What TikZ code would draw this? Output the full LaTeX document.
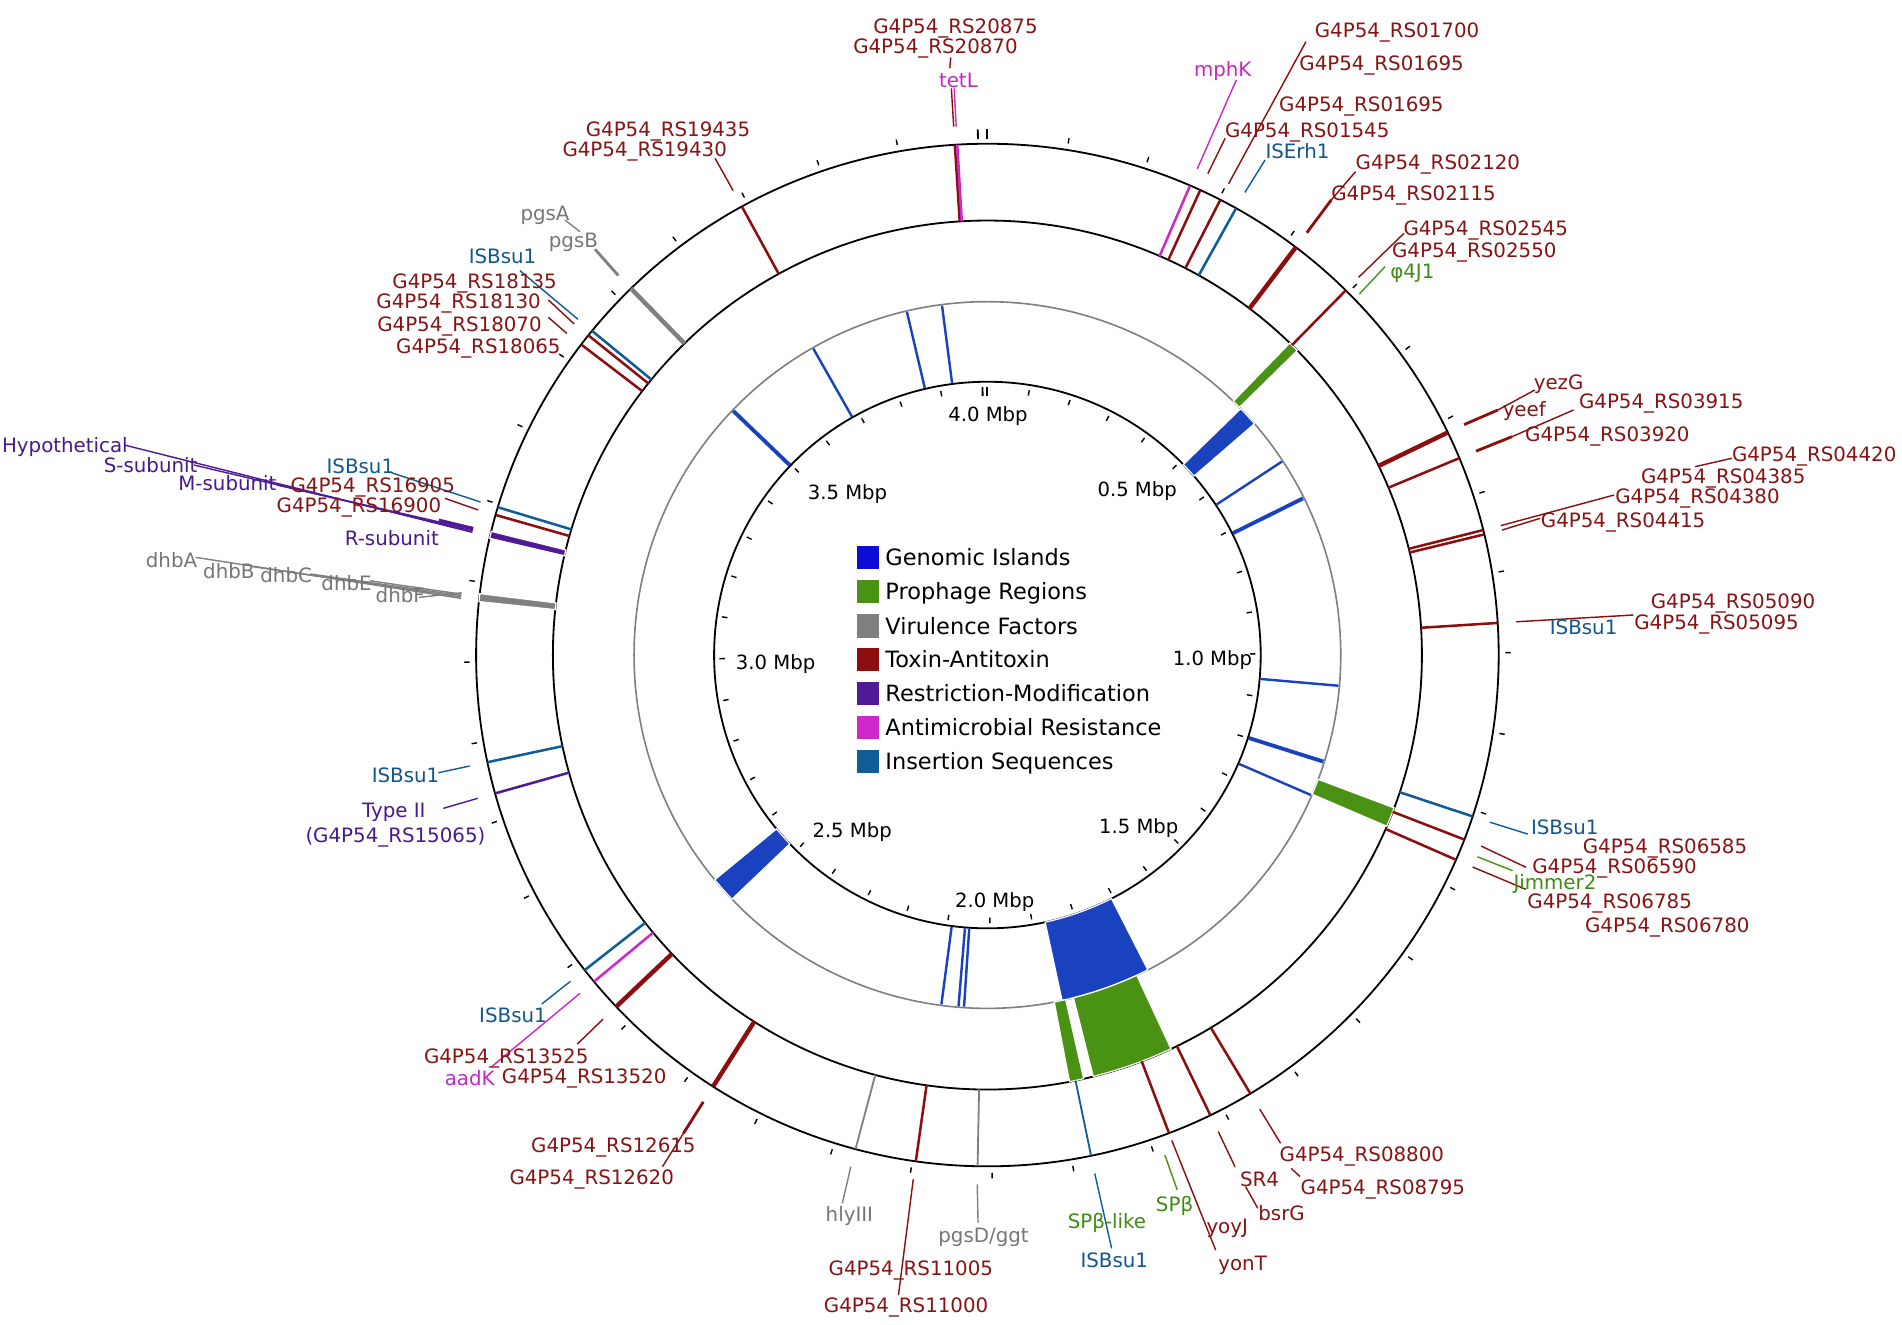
\documentclass[tikz,border=0pt]{standalone}
\usepackage{fontspec}
\setmainfont{DejaVu Sans}
\definecolor{ta}{RGB}{140,14,14}
\definecolor{amr}{RGB}{204,40,204}
\definecolor{isq}{RGB}{16,92,150}
\definecolor{rm}{RGB}{80,26,150}
\definecolor{vf}{RGB}{128,128,128}
\definecolor{pro}{RGB}{74,146,20}
\definecolor{gi}{RGB}{26,66,190}
\definecolor{gileg}{RGB}{12,12,214}
\definecolor{tatxt}{RGB}{135,20,20}
\definecolor{istxt}{RGB}{20,85,140}
\definecolor{rmtxt}{RGB}{72,26,140}
\definecolor{vftxt}{RGB}{118,118,118}
\definecolor{protxt}{RGB}{62,140,22}
\definecolor{amrtxt}{RGB}{196,40,196}
% ring line between the two outer circles
\newcommand\rl[2]{\draw[#2] ({#1-90}:358.2) -- ({#1-90}:421.5);}
% annular block: theta1, theta2, r1, r2, style
\newcommand\blk[5]{\fill[#5, draw=white, line width=0.6pt] ({#1-90}:#3) arc[start angle={#1-90}, end angle={#2-90}, radius=#3] -- ({#2-90}:#4) arc[start angle={#2-90}, end angle={#1-90}, radius=#4] -- cycle;}
% leader: style, name, start angle, end point
\newcommand\ld[4]{\coordinate (#2s) at ([shift={(814,540)}]{#3-90}:436.5); \coordinate (#2e) at (#4); \draw[#1] (#2s) -- (#2e);}
\begin{document}
\begin{tikzpicture}[x=0.6pt,y=-0.6pt,
  lbl/.style={inner sep=0pt, anchor=base, yshift=-3.55pt, font=\fontsize{9.8}{12}\selectfont},
  tal/.style={lbl, text=tatxt},
  isl/.style={lbl, text=istxt},
  rml/.style={lbl, text=rmtxt},
  vfl/.style={lbl, text=vftxt},
  prl/.style={lbl, text=protxt},
  aml/.style={lbl, text=amrtxt},
  mbl/.style={inner sep=0pt, anchor=base, yshift=-3.5pt, font=\fontsize{9.7}{12}\selectfont},
  leg/.style={inner sep=0pt, anchor=base west, yshift=-4.05pt, font=\fontsize{11.1}{13}\selectfont},
  ring/.style={line width=1.25pt},
  thickring/.style={line width=2.2pt},
  lead/.style={line width=0.7pt},
  thicklead/.style={line width=1.4pt}]
\fill[white] (0,0) rectangle (1568,1092.3);
\useasboundingbox (0,0) rectangle (1568,1092.3);

\begin{scope}[shift={(814,540)}]
 % circles
 \draw[line width=0.9pt] (0,0) circle[radius=421.5];
 \draw[line width=0.9pt] (0,0) circle[radius=358.2];
 \draw[vf, line width=0.8pt] (0,0) circle[radius=291.3];
 \draw[line width=0.9pt] (0,0) circle[radius=225.3];
 % ticks
 \foreach \i in {1,...,39}{
   \draw[line width=0.7pt] ({\i*8.9738-90}:427) -- ({\i*8.9738-90}:431.5);
   \draw[line width=0.7pt] ({\i*8.9738-90}:221) -- ({\i*8.9738-90}:216.5);
 }
 \foreach \a in {0,358.95}{
   \draw[line width=0.9pt] ({\a-90}:425.5) -- ({\a-90}:433.5);
   \draw[line width=0.9pt] ({\a-90}:221) -- ({\a-90}:213.5);
 }
 % genomic islands
 \blk{45.8}{49.1}{225.3}{291.3}{gi}
 \blk{153}{167.8}{225.3}{291.3}{gi}
 \blk{226.3}{230.5}{225.3}{291.3}{gi}
 \foreach \a in {56.7,95,113.4,183.8,184.7,187.5,330.4,346.8,352.6}
   {\draw[gi, line width=1.2pt] ({\a-90}:226) -- ({\a-90}:290.5);}
 \foreach \a in {63.6,107.6,313.85}
   {\draw[gi, line width=1.9pt] ({\a-90}:226) -- ({\a-90}:290.5);}
 % prophage regions
 \blk{44.1}{45.5}{291.3}{358.2}{pro}
 \blk{110.6}{113.2}{291.3}{358.2}{pro}
 \blk{155}{165.9}{291.3}{358.2}{pro}
 \blk{167.2}{169.1}{291.3}{358.2}{pro}
 % outer ring features
 \rl{356.35}{ta,ring}
 \rl{356.62}{amr,ring}
 \rl{331.3}{ta,ring}
 \rl{23.35}{amr,ring}
 \rl{24.6}{ta,ring}
 \rl{27.1}{ta,ring}
 \rl{29.1}{isq,ring}
 \rl{37.1}{ta,thickring}
 \rl{44.5}{ta,ring}
 \rl{64.2}{ta,thickring}
 \rl{67.35}{ta,ring}
 \rl{75.85}{ta,ring}
 \rl{76.35}{ta,ring}
 \rl{86.4}{ta,ring}
 \rl{108.4}{isq,ring}
 \rl{111.15}{ta,ring}
 \rl{113.6}{ta,ring}
 \rl{149.05}{ta,ring}
 \rl{154.15}{ta,ring}
 \rl{159.2}{ta,ring}
 \rl{168.3}{isq,line width=0.9pt}
 \rl{181.1}{vf,line width=0.9pt}
 \rl{188.05}{ta,ring}
 \rl{194.95}{vf,line width=0.9pt}
 \rl{212.45}{ta,thickring}
 \rl{226.55}{ta,thickring}
 \rl{230.3}{amr,ring}
 \rl{231.96}{isq,ring}
 \rl{254.3}{rm,ring}
 \rl{257.9}{isq,ring}
 \rl{285.9}{ta,ring}
 \rl{286.8}{isq,ring}
 \rl{307.4}{ta,ring}
 \rl{308.7}{ta,ring}
 \rl{309.35}{isq,ring}
 \rl{315.8}{vf,thickring}
 \blk{276.0}{276.9}{358.2}{421.5}{vf}
 \blk{283.2}{284.0}{358.2}{421.5}{rm}
\end{scope}

% scale labels
\node[mbl] (m40) at (814.5,341.6) {4.0 Mbp};
\node[mbl] (m05) at (937.5,403.2) {0.5 Mbp};
\node[mbl] (m10) at (999.5,542.6) {1.0 Mbp};
\node[mbl] (m15) at (938.8,681.5) {1.5 Mbp};
\node[mbl] (m20) at (820,742.3) {2.0 Mbp};
\node[mbl] (m25) at (702.5,684.4) {2.5 Mbp};
\node[mbl] (m30) at (639.4,546.2) {3.0 Mbp};
\node[mbl] (m35) at (698.7,406.1) {3.5 Mbp};

% legend
\foreach \yy/\cc/\tt [count=\k] in {459.7/gileg/Genomic Islands, 487.8/pro/Prophage Regions, 516.1/vf/Virulence Factors, 543.5/ta/Toxin-Antitoxin, 571.6/rm/Restriction-Modification, 599.9/amr/Antimicrobial Resistance, 627.9/isq/Insertion Sequences}{
  \fill[\cc] (706.2,\yy-9.6) rectangle (725,\yy+9.6);
  \node[leg] (leg\k) at (729.6,\yy) {\tt};
}

% ---------- leaders ----------
\ld{ta,lead}{tetLa}{356.35}{784.3,72.8}
\ld{amr,lead}{tetLb}{356.62}{786.6,72.8}
\coordinate (tetLc) at (783,56.3); \coordinate (tetLd) at (783.8,47.3);
\draw[ta,lead] (tetLc) -- (tetLd);
\ld{ta,lead}{r19435}{331.3}{589.5,130.5}
\ld{amr,lead}{mphK}{23.35}{1019.2,65.9}
\ld{ta,lead}{r01545}{24.6}{1010,114}
\ld{ta,lead}{r01695}{27.1}{1076.6,34.4}
\ld{isq,lead}{iserh}{29.1}{1042.9,131.9}
\ld{ta,thicklead}{r02115}{37.1}{1097.5,164.8}
\coordinate (r02120e) at (1117.5,141.5); \draw[ta,lead] (r02115e) -- (r02120e);
\ld{ta,lead}{r02545}{44.5}{1157.5,192.3}
\coordinate (phis) at (1120.6,242.4); \coordinate (phie) at (1141.8,219.8);
\draw[pro,lead] (phis) -- (phie);
\ld{ta,thicklead}{yezG}{64.2}{1234.8,338}
\coordinate (yezGf) at (1265.3,321.5); \draw[ta,lead] (yezGe) -- (yezGf);
\ld{ta,thicklead}{r03915}{67.35}{1246.4,360}
\coordinate (r03915f) at (1297.2,338); \draw[ta,lead] (r03915e) -- (r03915f);
\ld{ta,lead}{r04380}{75.85}{1330.6,408.1}
\ld{ta,lead}{r04415}{76.35}{1269.7,427.3}
\coordinate (r04420s) at (1397.4,384.7); \coordinate (r04420e) at (1427.8,377.8);
\draw[ta,lead] (r04420s) -- (r04420e);
\ld{ta,lead}{r05090}{86.4}{1346.6,507}
\ld{isq,lead}{isR}{108.4}{1259.5,687.6}
\ld{ta,lead}{r06590}{111.15}{1258,715}
\coordinate (jims) at (1218,706.3); \coordinate (jime) at (1247,717.8);
\draw[pro,lead] (jims) -- (jime);
\ld{ta,lead}{r06785}{113.6}{1258,733.2}
\ld{ta,lead}{r08800}{149.05}{1055.7,942.5}
\coordinate (r08795s) at (1064.5,963.2); \coordinate (r08795e) at (1071.7,970);
\draw[ta,lead] (r08795s) -- (r08795e);
\ld{ta,lead}{sr4}{154.15}{1018.1,961.8}
\coordinate (bsrGs) at (1026.9,978.3); \coordinate (bsrGe) at (1036.9,996.1);
\draw[ta,lead] (bsrGs) -- (bsrGe);
\coordinate (yonTs) at ([shift={(814,540)}]{159.2-90}:428); \coordinate (yonTe) at (1002.2,1030.5);
\draw[ta,lead] (yonTs) -- (yonTe);
\coordinate (spbs) at (960.3,952.2); \coordinate (spbe) at (970.5,981);
\draw[pro,lead] (spbs) -- (spbe);
\ld{isq,lead}{isB}{168.3}{916.4,1029.1}
\ld{vf,lead}{pgsD}{181.1}{806.3,1008}
\ld{ta,lead}{r11005}{188.05}{740.7,1067.6}
\ld{vf,lead}{hly}{194.95}{694.4,992}
\ld{ta,thicklead}{r12615}{212.45}{563.4,934.3}
\coordinate (r12620e) at (546.1,961.8); \draw[ta,lead] (r12615e) -- (r12620e);
\ld{ta,lead}{r13525}{226.55}{475.9,860.7}
\ld{amr,lead}{aadK}{230.3}{405.3,879.4}
\ld{isq,lead}{isLL}{231.96}{446.6,827.7}
\ld{rm,lead}{typeII}{254.3}{365.5,666.4}
\ld{isq,lead}{isL}{257.9}{361.4,637}
\ld{vf,lead}{dhbA}{276.15}{161.4,459.5}
\ld{vf,lead}{dhbB}{276.3}{208.6,467.2}
\ld{vf,lead}{dhbC}{276.45}{255.9,473.2}
\ld{vf,lead}{dhbE}{276.6}{304.8,478.7}
\ld{vf,lead}{dhbF}{276.75}{345.5,492.4}
\ld{rm,lead}{hyp}{283.4}{102.7,366.9}
\ld{rm,lead}{ssub}{283.55}{159.7,383.3}
\ld{rm,lead}{msub}{283.7}{228.2,399.8}
\ld{rm,thicklead}{rsub}{283.85}{361.8,428.7}
\ld{ta,lead}{r16905}{285.9}{366.7,410.8}
\ld{isq,lead}{isUL}{286.8}{322.7,389.7}
\ld{ta,lead}{r18065}{307.4}{452.1,261.6}
\ld{ta,lead}{r18130}{308.7}{452.1,247.3}
\ld{isq,lead}{isTL}{309.35}{428.7,223.2}
\ld{vf,thicklead}{pgsB}{315.8}{490.5,205.5}
\coordinate (pgsAs) at (478.2,191); \coordinate (pgsAe) at (465.8,181.4);
\draw[vf,lead] (pgsAs) -- (pgsAe);

% ---------- labels ----------
\node[tal] (t20875) at (787.7,21.4) {G4P54\_RS20875};
\node[tal] (t20870) at (771.2,38.5) {G4P54\_RS20870};
\node[aml] (ttetL) at (790.1,65.9) {tetL};
\node[tal] (t19435) at (550.7,106.6) {G4P54\_RS19435};
\node[tal] (t19430) at (531.5,123.1) {G4P54\_RS19430};
\node[aml] (tmphK) at (1008,56.9) {mphK};
\node[tal] (t01700) at (1151.7,25.3) {G4P54\_RS01700};
\node[tal] (t01695a) at (1139,52.2) {G4P54\_RS01695};
\node[tal] (t01695b) at (1122.3,85.7) {G4P54\_RS01695};
\node[tal] (t01545) at (1077.7,107.1) {G4P54\_RS01545};
\node[isl] (tiserh) at (1069.6,125) {ISErh1};
\node[tal] (t02120) at (1185.4,134.1) {G4P54\_RS02120};
\node[tal] (t02115) at (1165.3,159.3) {G4P54\_RS02115};
\node[tal] (t02545) at (1224.8,188.2) {G4P54\_RS02545};
\node[tal] (t02550) at (1215.4,206) {G4P54\_RS02550};
\node[prl] (tphi) at (1164.3,224) {φ4J1};
\node[tal] (tyezG) at (1284.9,315.5) {yezG};
\node[tal] (tyeef) at (1256.6,337.5) {yeef};
\node[tal] (t03915) at (1369.5,331.1) {G4P54\_RS03915};
\node[tal] (t03920) at (1325.1,357.8) {G4P54\_RS03920};
\node[tal] (t04420) at (1495.6,374.3) {G4P54\_RS04420};
\node[tal] (t04385) at (1420.6,393) {G4P54\_RS04385};
\node[tal] (t04380) at (1399.4,409.5) {G4P54\_RS04380};
\node[tal] (t04415) at (1338.1,429.2) {G4P54\_RS04415};
\node[tal] (t05090) at (1428.7,496) {G4P54\_RS05090};
\node[isl] (tisR1) at (1305.5,517.2) {ISBsu1};
\node[tal] (t05095) at (1415.1,513.3) {G4P54\_RS05095};
\node[isl] (tisR2) at (1290,682.3) {ISBsu1};
\node[tal] (t06585) at (1372.6,698) {G4P54\_RS06585};
\node[tal] (t06590) at (1331,713.9) {G4P54\_RS06590};
\node[prl] (tjim) at (1281.9,727.7) {Jimmer2};
\node[tal] (t06785) at (1327,743.3) {G4P54\_RS06785};
\node[tal] (t06780) at (1374.5,762.6) {G4P54\_RS06780};
\node[tal] (t08800) at (1122.7,951.4) {G4P54\_RS08800};
\node[tal] (t08795) at (1140,978.8) {G4P54\_RS08795};
\node[tal] (tsr4) at (1038.4,972.2) {SR4};
\node[tal] (tbsrG) at (1056.5,1000.3) {bsrG};
\node[tal] (tyoyJ) at (1011.7,1011.3) {yoyJ};
\node[tal] (tyonT) at (1024.4,1041.5) {yonT};
\node[prl] (tspb) at (968.3,992.6) {SPβ};
\node[prl] (tspbl) at (912.6,1007.2) {SPβ-like};
\node[isl] (tisB) at (918.6,1039.3) {ISBsu1};
\node[vfl] (tpgsD) at (810.8,1018.1) {pgsD/ggt};
\node[tal] (t11005) at (750.9,1045.6) {G4P54\_RS11005};
\node[tal] (t11000) at (747,1075.8) {G4P54\_RS11000};
\node[vfl] (thly) at (700.2,1000.8) {hlyIII};
\node[tal] (t12615) at (505.7,943.9) {G4P54\_RS12615};
\node[tal] (t12620) at (487.8,970.6) {G4P54\_RS12620};
\node[isl] (tisLL) at (422.9,836.8) {ISBsu1};
\node[tal] (t13525) at (417.3,870.6) {G4P54\_RS13525};
\node[aml] (taadK) at (387.2,889) {aadK};
\node[tal] (t13520) at (481.6,887.6) {G4P54\_RS13520};
\node[rml] (ttype) at (324.6,668.3) {Type II};
\node[rml] (t15065) at (326,688.4) {(G4P54\_RS15065)};
\node[isl] (tisL) at (334.3,638.9) {ISBsu1};
\node[vfl] (tdhbA) at (141.4,461.7) {dhbA};
\node[vfl] (tdhbB) at (188.7,471.3) {dhbB};
\node[vfl] (tdhbC) at (235.9,474) {dhbC};
\node[vfl] (tdhbE) at (285.7,480.9) {dhbE};
\node[vfl] (tdhbF) at (330,490.5) {dhbF};
\node[rml] (thyp) at (53.5,366.9) {Hypothetical};
\node[rml] (tssub) at (124.2,383.3) {S-subunit};
\node[rml] (tmsub) at (187.5,398.4) {M-subunit};
\node[rml] (trsub) at (323,443.8) {R-subunit};
\node[isl] (tisUL) at (297.1,384.7) {ISBsu1};
\node[tal] (t16905) at (307.3,399.8) {G4P54\_RS16905};
\node[tal] (t16900) at (295.9,416.3) {G4P54\_RS16900};
\node[tal] (t18135) at (391.3,232.2) {G4P54\_RS18135};
\node[tal] (t18130) at (378.1,248.7) {G4P54\_RS18130};
\node[tal] (t18070) at (378.8,267.1) {G4P54\_RS18070};
\node[tal] (t18065) at (394.4,285.2) {G4P54\_RS18065};
\node[isl] (tisTL) at (414.3,211.6) {ISBsu1};
\node[vfl] (tpgsA) at (449.3,175.9) {pgsA};
\node[vfl] (tpgsB) at (472.7,197.9) {pgsB};
\end{tikzpicture}
\end{document}
